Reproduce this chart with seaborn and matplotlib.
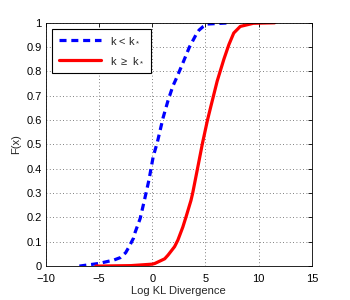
import matplotlib
matplotlib.use("Agg")
import matplotlib.pyplot as plt
import seaborn as sns
import pandas as pd

blue_x = [-6.85, -5.0, -3.6, -3.0, -2.5, -2.2, -1.76, -1.6, -1.14, -0.74, -0.31, 0.09, 0.49,
          1.02, 1.48, 1.94, 2.25, 2.87, 3.49, 4.1, 4.4, 4.8, 5.19, 7.35]
blue_y = [0.0, 0.011, 0.025, 0.035, 0.055, 0.078, 0.115, 0.14, 0.195, 0.27, 0.354, 0.45, 0.511,
          0.61, 0.68, 0.74, 0.77, 0.834, 0.9, 0.95, 0.97, 0.985, 0.995, 1.0]
red_x = [-5.3, -2.0, 0.0, 0.25, 1.17, 1.48, 2.1, 2.41, 2.87, 3.18, 3.64, 3.8, 4.26, 4.72,
         5.19, 5.5, 6.1, 6.73, 7.2, 7.66, 8.27, 9.5, 11.5]
red_y = [0.0, 0.002, 0.008, 0.011, 0.03, 0.045, 0.08, 0.107, 0.16, 0.203, 0.27, 0.3, 0.402, 0.505,
         0.6, 0.655, 0.76, 0.85, 0.91, 0.958, 0.985, 0.998, 1.0]
labels = [r"k < k$_*$", r"k $\geq$ k$_*$"]
x_ticks = [-10, -5, 0, 5, 10, 15]
y_ticks = [0, 0.1, 0.2, 0.3, 0.4, 0.5, 0.6, 0.7, 0.8, 0.9, 1]
y_tick_labels = ["0", "0.1", "0.2", "0.3", "0.4", "0.5", "0.6", "0.7", "0.8", "0.9", "1"]

sns.set_style("white")
plt.rcParams["font.family"] = ["Liberation Sans", "DejaVu Sans"]
plt.rcParams["mathtext.fontset"] = "custom"
plt.rcParams["mathtext.rm"] = "Liberation Sans"

fig = plt.figure(figsize=(3.5, 3.0), dpi=100)
ax = fig.add_axes([0.131, 0.113, 0.76, 0.811])

df_b = pd.DataFrame({"x": blue_x, "y": blue_y})
df_r = pd.DataFrame({"x": red_x, "y": red_y})
sns.lineplot(data=df_b, x="x", y="y", ax=ax, color="#0000ff", linewidth=2.3,
             linestyle=(0, (2.2, 1.5)), label=labels[0], sort=False)
sns.lineplot(data=df_r, x="x", y="y", ax=ax, color="#ff0000", linewidth=2.3,
             label=labels[1], sort=False)

ax.set_xlim(-10, 15)
ax.set_ylim(0, 1)
ax.set_xticks(x_ticks)
ax.set_xticklabels([str(t) if t >= 0 else "\u2212" + str(-t) for t in x_ticks])
ax.set_yticks(y_ticks)
ax.set_yticklabels(y_tick_labels)
ax.tick_params(direction="in", top=True, right=True, length=3, width=0.6,
               labelsize=8, colors="black", pad=3)
ax.tick_params(axis="x", pad=6)
ax.grid(True, linestyle=(0, (1, 3)), color="#555555", linewidth=0.6)
for s in ax.spines.values():
    s.set_visible(True)
    s.set_color("black")
    s.set_linewidth(0.6)
ax.set_xlabel("Log KL Divergence", fontsize=8, labelpad=1)
ax.set_ylabel("F(x)", fontsize=8, labelpad=4)

leg = ax.legend(loc="upper left", bbox_to_anchor=(0.023, 0.974), borderaxespad=0,
                fontsize=8, handlelength=3.8, frameon=True, fancybox=False,
                edgecolor="black", framealpha=1, borderpad=0.6, labelspacing=0.9,
                handletextpad=0.8)
leg.get_frame().set_linewidth(0.8)

fig.savefig("out.png", dpi=100)
